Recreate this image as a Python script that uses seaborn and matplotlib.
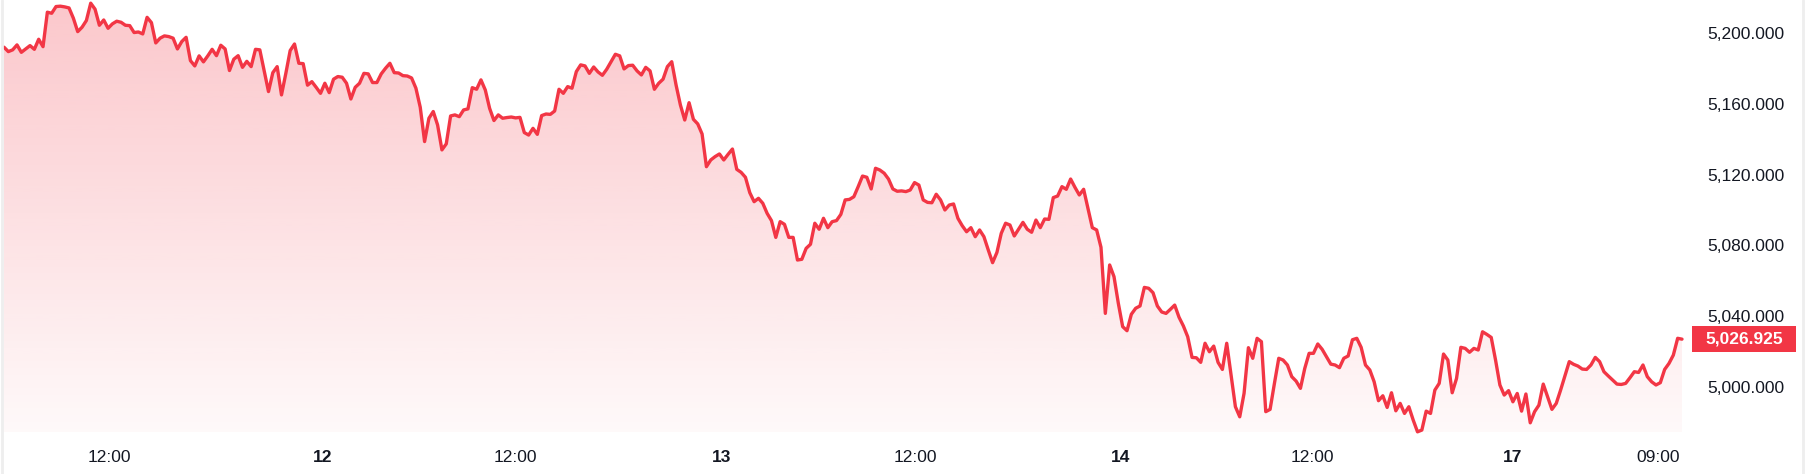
import numpy as np
import pandas as pd
import seaborn as sns
import matplotlib.pyplot as plt
import matplotlib.transforms as mtransforms
from matplotlib.colors import to_rgb
from matplotlib.patches import Rectangle
from matplotlib.lines import Line2D

sns.set_theme(style='white')
plt.rcParams['font.family'] = ['Liberation Sans', 'DejaVu Sans']

RED = '#F23645'
TXT = '#131722'

# 15-minute closes (11 May -> 17 May, weekend skipped)
close = [
    5192.1, 5189.6, 5190.6, 5193.4, 5189.2, 5191.1, 5193.0, 5190.9, 5196.6, 5192.4,
    5211.9, 5211.3, 5215.1, 5215.3, 5214.9, 5214.3, 5208.5, 5200.9, 5203.4, 5207.2,
    5217.0, 5213.6, 5204.5, 5207.5, 5202.8, 5205.3, 5206.8, 5206.2, 5204.5, 5204.3,
    5200.4, 5200.7, 5199.6, 5209.0, 5206.0, 5194.5, 5197.2, 5198.5, 5198.1, 5197.2,
    5191.1, 5195.3, 5197.7, 5184.5, 5181.5, 5187.2, 5183.8, 5187.2, 5190.9, 5187.3,
    5193.2, 5191.1, 5178.9, 5185.3, 5187.3, 5180.7, 5184.1, 5181.1, 5190.9, 5190.6,
    5178.9, 5167.0, 5177.7, 5181.1, 5165.1, 5177.3, 5190.2, 5193.9, 5183.0, 5182.8,
    5170.6, 5172.6, 5169.4, 5166.0, 5171.7, 5166.4, 5174.0, 5175.5, 5175.1, 5171.7,
    5162.8, 5169.4, 5171.7, 5177.3, 5177.0, 5172.1, 5172.1, 5177.0, 5180.2, 5183.0,
    5177.7, 5177.5, 5176.0, 5175.8, 5174.7, 5168.9, 5158.1, 5138.7, 5151.9, 5155.7,
    5148.1, 5134.0, 5137.4, 5153.2,
    5153.8, 5152.8, 5156.6, 5157.2, 5169.2, 5168.3, 5173.6, 5167.9, 5157.5, 5150.6,
    5153.8, 5151.9, 5152.3, 5152.6, 5152.1, 5152.4, 5143.8, 5142.4, 5146.2, 5142.8,
    5153.4, 5154.3, 5154.1, 5156.0, 5168.3, 5166.0, 5169.8, 5168.9, 5178.3, 5182.1,
    5181.5, 5177.3, 5180.9, 5178.1, 5176.2, 5179.6, 5183.9, 5188.1, 5187.2, 5179.8,
    5181.7, 5181.9, 5178.7, 5176.4, 5180.7, 5178.7, 5168.3, 5171.7, 5174.0, 5181.1,
    5183.9, 5170.7, 5159.4, 5150.9, 5160.7, 5151.3, 5148.7, 5143.0, 5124.5, 5128.3,
    5130.2, 5131.7, 5128.3, 5131.5, 5134.5, 5123.0, 5121.3, 5118.5, 5109.8, 5104.7,
    5106.6, 5103.8, 5098.1, 5094.0, 5084.5, 5093.4, 5091.9, 5084.5, 5084.5, 5071.7,
    5072.1, 5078.3, 5080.6, 5092.5, 5089.1, 5095.3, 5090.0, 5093.4, 5094.0, 5097.5,
    5105.7, 5106.0, 5107.5, 5113.2, 5119.2, 5118.5, 5111.9, 5123.6, 5122.6, 5120.8,
    5117.5, 5111.9, 5110.6, 5110.8,
    5110.4, 5111.3, 5115.5, 5114.1, 5105.7, 5104.3, 5104.1, 5108.9, 5105.7, 5100.0,
    5102.8, 5103.4, 5095.3, 5091.1, 5087.7, 5090.0, 5084.9, 5088.7, 5084.9, 5077.4,
    5070.2, 5076.0, 5086.8, 5092.5, 5091.5, 5085.3, 5089.2, 5093.0, 5089.1, 5087.4,
    5094.3, 5090.0, 5094.9, 5094.7, 5107.0, 5107.9, 5113.2, 5111.7, 5117.5, 5112.8,
    5108.5, 5111.7, 5100.9, 5090.0, 5088.7, 5078.9, 5041.5, 5068.9, 5062.3, 5047.2,
    5034.0, 5031.7, 5041.0, 5044.4, 5045.7, 5056.2, 5055.7, 5053.2, 5045.7, 5042.3,
    5041.5, 5043.8, 5046.2, 5039.3, 5034.4,
    5028.3, 5016.6, 5016.4, 5013.8, 5024.6, 5019.8, 5023.0, 5013.8, 5009.8, 5024.6,
    5006.6, 4988.7, 4983.0, 4996.3, 5022.1, 5016.1, 5027.4, 5025.5, 4985.9, 4987.2,
    5001.9, 5016.1, 5015.1, 5012.3, 5005.7, 5003.2, 4999.1, 5010.4, 5018.9, 5018.9,
    5024.2, 5021.2, 5017.0, 5012.8, 5012.3, 5010.8, 5016.1, 5017.4, 5026.6,
    5027.4, 5022.3, 5012.3, 5009.5, 5002.8, 4992.1, 4994.9, 4988.3, 4996.6, 4986.4,
    4990.6, 4984.9, 4988.7, 4981.2, 4974.5, 4975.5, 4986.2, 4984.9, 4998.1, 5001.9,
    5018.5, 5015.1, 4996.6, 5004.7, 5022.3, 5021.7, 5019.5, 5021.7, 5020.8, 5031.1,
    5029.6, 5027.9, 5015.1, 5001.0, 4995.3, 4997.8, 4991.5, 4996.2, 4986.2, 4995.9,
    4979.6, 4985.9, 4989.6, 5001.5, 4994.4, 4987.2, 4990.6, 4998.1, 5006.1, 5014.2,
    5012.7, 5011.7, 5010.0, 5009.8, 5012.3, 5016.6, 5014.2, 5008.5, 5006.1, 5003.8,
    5001.5, 5001.3, 5001.9, 5005.1, 5008.5, 5008.1, 5012.3, 5005.7, 5002.8, 5001.0,
    5002.3, 5009.8, 5013.2, 5017.9, 5027.4, 5026.925,
]

# x ticks given as bar index
tick_pos = [24.4, 73.6, 117.9, 165.6, 210.1, 257.4, 301.7, 348.0, 381.5]
tick_labels = ['12:00', '12', '12:00', '13', '12:00', '14', '12:00', '17', '09:00']
y_ticks = [5000, 5040, 5080, 5120, 5160, 5200]

df = pd.DataFrame({'bar': np.arange(len(close)), 'close': close})
y_lo, y_hi = 4974.4, 5218.8

fig = plt.figure(figsize=(18.1, 4.74), dpi=100)
ax = fig.add_axes([4 / 1810, 42 / 474, 1678 / 1810, 432 / 474])

# area under the line with a vertical fade
fill = ax.fill_between(df['bar'], df['close'], y_lo, facecolor='none', edgecolor='none')
grad = np.zeros((256, 1, 4))
grad[:, 0, :3] = to_rgb(RED)
grad[:, 0, 3] = np.linspace(0.28, 0.03, 256)
im = ax.imshow(grad, extent=[0, len(close) - 1, y_lo, y_hi], origin='upper',
               aspect='auto', zorder=1)
im.set_clip_path(fill.get_paths()[0], transform=ax.transData)

sns.lineplot(data=df, x='bar', y='close', color=RED, linewidth=2.4, ax=ax, zorder=3)
ax.lines[0].set_clip_on(False)
ax.lines[0].set_solid_joinstyle('round')

ax.set_xlim(0, len(close) - 1)
ax.set_ylim(y_lo, y_hi)
ax.set_xticks(tick_pos, tick_labels)
for lbl in ax.get_xticklabels():
    if ':' not in lbl.get_text():
        lbl.set_fontweight('bold')
ax.yaxis.tick_right()
ax.set_yticks(y_ticks, [f'{v:,.3f}' for v in y_ticks])
ax.tick_params(axis='x', length=0, pad=12.6, labelsize=12.5, labelcolor=TXT)
ax.tick_params(axis='y', length=0, pad=18, labelsize=12.5, labelcolor=TXT)
ax.set_xlabel('')
ax.set_ylabel('')
sns.despine(ax=ax, left=True, bottom=True, right=True, top=True)

# last price tag on the scale
last = close[-1]
per_px = (y_hi - y_lo) / 432
trans = mtransforms.blended_transform_factory(ax.transAxes, ax.transData)
ax.add_patch(Rectangle((1688 / 1678, last - 13 * per_px), 104 / 1678, 26 * per_px,
                       transform=trans, facecolor=RED, edgecolor='none', clip_on=False))
ax.text(1740 / 1678, last, f'{last:,.3f}', transform=trans, ha='center', va='center',
        color='white', fontsize=12.5, fontweight='bold', clip_on=False)

# faint pane borders
fig.add_artist(Line2D([2 / 1810, 2 / 1810], [0, 1], color='#eeeeee', lw=2))
fig.add_artist(Line2D([1803 / 1810, 1803 / 1810], [0, 1], color='#eeeeee', lw=2))

fig.savefig('out.png', dpi=100)
